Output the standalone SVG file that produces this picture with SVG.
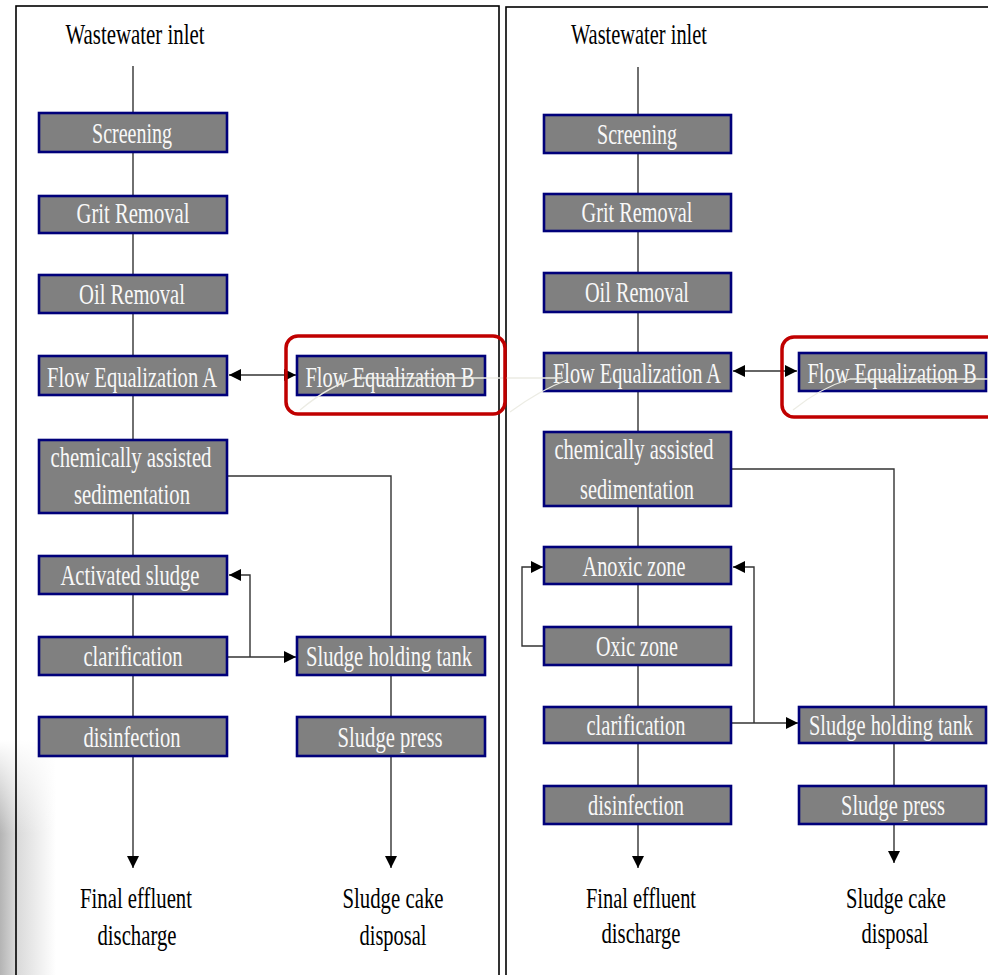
<svg xmlns="http://www.w3.org/2000/svg" width="988" height="975" viewBox="0 0 988 975">
<style>
.box{fill:#808080;stroke:#00007a;stroke-width:2.6}
.nt{font-family:"Liberation Serif","Times New Roman",serif;font-size:30px;fill:#f8f8f8;text-anchor:middle}
.lt{font-family:"Liberation Serif","Times New Roman",serif;font-size:30px;fill:#000;text-anchor:middle}
.con{fill:none;stroke:#333;stroke-width:1.4}
.panel{fill:none;stroke:#000;stroke-width:1.6}
.hl{fill:none;stroke:#c00000;stroke-width:3.5}
.faint{fill:none;stroke:#ecece4;stroke-width:1.3}
</style>
<defs>
<marker id="arr" viewBox="0 0 10 10" refX="10" refY="5" markerUnits="userSpaceOnUse" markerWidth="12" markerHeight="12" orient="auto-start-reverse">
<path d="M0,0 L10,5 L0,10 z" fill="#000"/>
</marker>
<linearGradient id="shH" x1="0" y1="0" x2="1" y2="0">
<stop offset="0" stop-color="#b4b4b4"/>
<stop offset="0.28" stop-color="#d8d8d8"/>
<stop offset="1" stop-color="#ffffff"/>
</linearGradient>
<linearGradient id="shV" x1="0" y1="0" x2="0" y2="1">
<stop offset="0" stop-color="#fff" stop-opacity="1"/>
<stop offset="0.4" stop-color="#fff" stop-opacity="0"/>
</linearGradient>
</defs>
<rect width="988" height="975" fill="#fff"/>
<g id="shadow">
<rect x="0" y="740" width="56" height="235" fill="url(#shH)"/>
<rect x="0" y="740" width="56" height="235" fill="url(#shV)"/>
</g>
<g id="panels">
<rect class="panel" x="16" y="6" width="483" height="1000"/>
<rect class="panel" x="506" y="7" width="500" height="1000"/>
</g>
<g id="connectors">
<path class="con" d="M133,66 V868" marker-end="url(#arr)"/>
<path class="con" d="M229,375 H296" marker-start="url(#arr)" marker-end="url(#arr)"/>
<path class="con" d="M227,476 H391 V637"/>
<path class="con" d="M391,675 V868" marker-end="url(#arr)"/>
<path class="con" d="M227,657 H296" marker-end="url(#arr)"/>
<path class="con" d="M250,657 V575 H229" marker-end="url(#arr)"/>
<path class="con" d="M638,67 V868" marker-end="url(#arr)"/>
<path class="con" d="M733,371 H797" marker-start="url(#arr)" marker-end="url(#arr)"/>
<path class="con" d="M731,469 H894 V707"/>
<path class="con" d="M894,743 V863" marker-end="url(#arr)"/>
<path class="con" d="M731,723 H798" marker-end="url(#arr)"/>
<path class="con" d="M754,723 V567 H733" marker-end="url(#arr)"/>
<path class="con" d="M544,646 H522 V567 H543" marker-end="url(#arr)"/>
</g>
<g id="labels">
<text class="lt" x="135" y="44" textLength="139" lengthAdjust="spacingAndGlyphs">Wastewater inlet</text>
<text class="lt" x="136" y="908" textLength="112" lengthAdjust="spacingAndGlyphs">Final effluent</text>
<text class="lt" x="137" y="945" textLength="79" lengthAdjust="spacingAndGlyphs">discharge</text>
<text class="lt" x="393" y="908" textLength="101" lengthAdjust="spacingAndGlyphs">Sludge cake</text>
<text class="lt" x="393" y="945" textLength="67" lengthAdjust="spacingAndGlyphs">disposal</text>
<text class="lt" x="639" y="44" textLength="136" lengthAdjust="spacingAndGlyphs">Wastewater inlet</text>
<text class="lt" x="641" y="908" textLength="110" lengthAdjust="spacingAndGlyphs">Final effluent</text>
<text class="lt" x="641" y="943" textLength="79" lengthAdjust="spacingAndGlyphs">discharge</text>
<text class="lt" x="896" y="908" textLength="100" lengthAdjust="spacingAndGlyphs">Sludge cake</text>
<text class="lt" x="895" y="943" textLength="67" lengthAdjust="spacingAndGlyphs">disposal</text>
</g>
<g id="L-screening"><rect class="box" x="39" y="113" width="188" height="39"/><text class="nt" x="132" y="143" textLength="80" lengthAdjust="spacingAndGlyphs">Screening</text></g>
<g id="L-grit"><rect class="box" x="39" y="196" width="188" height="37"/><text class="nt" x="133" y="223" textLength="113" lengthAdjust="spacingAndGlyphs">Grit Removal</text></g>
<g id="L-oil"><rect class="box" x="39" y="275" width="188" height="38"/><text class="nt" x="132" y="304" textLength="106" lengthAdjust="spacingAndGlyphs">Oil Removal</text></g>
<g id="L-floweqA"><rect class="box" x="39" y="356" width="188" height="39"/><text class="nt" x="132" y="387" textLength="170" lengthAdjust="spacingAndGlyphs">Flow Equalization A</text></g>
<g id="L-floweqB"><rect class="box" x="297" y="356" width="188" height="39"/><text class="nt" x="390" y="387" textLength="169" lengthAdjust="spacingAndGlyphs">Flow Equalization B</text></g>
<g id="L-chem"><rect class="box" x="39" y="440" width="188" height="73"/><text class="nt" x="131" y="467" textLength="161" lengthAdjust="spacingAndGlyphs">chemically assisted</text><text class="nt" x="132" y="504" textLength="116" lengthAdjust="spacingAndGlyphs">sedimentation</text></g>
<g id="L-activated"><rect class="box" x="39" y="556" width="188" height="38"/><text class="nt" x="130" y="585" textLength="139" lengthAdjust="spacingAndGlyphs">Activated sludge</text></g>
<g id="L-clar"><rect class="box" x="39" y="637" width="188" height="38"/><text class="nt" x="133" y="666" textLength="99" lengthAdjust="spacingAndGlyphs">clarification</text></g>
<g id="L-shtank"><rect class="box" x="297" y="637" width="188" height="38"/><text class="nt" x="389" y="666" textLength="166" lengthAdjust="spacingAndGlyphs">Sludge holding tank</text></g>
<g id="L-disinf"><rect class="box" x="39" y="717" width="188" height="39"/><text class="nt" x="132" y="747" textLength="97" lengthAdjust="spacingAndGlyphs">disinfection</text></g>
<g id="L-press"><rect class="box" x="297" y="717" width="188" height="39"/><text class="nt" x="390" y="747" textLength="105" lengthAdjust="spacingAndGlyphs">Sludge press</text></g>
<g id="R-screening"><rect class="box" x="544" y="115" width="187" height="38"/><text class="nt" x="637" y="144" textLength="80" lengthAdjust="spacingAndGlyphs">Screening</text></g>
<g id="R-grit"><rect class="box" x="544" y="194" width="187" height="37"/><text class="nt" x="637" y="222" textLength="111" lengthAdjust="spacingAndGlyphs">Grit Removal</text></g>
<g id="R-oil"><rect class="box" x="544" y="273" width="187" height="39"/><text class="nt" x="637" y="302" textLength="104" lengthAdjust="spacingAndGlyphs">Oil Removal</text></g>
<g id="R-floweqA"><rect class="box" x="544" y="353" width="187" height="38"/><text class="nt" x="637" y="383" textLength="168" lengthAdjust="spacingAndGlyphs">Flow Equalization A</text></g>
<g id="R-floweqB"><rect class="box" x="799" y="353" width="187" height="38"/><text class="nt" x="892" y="383" textLength="169" lengthAdjust="spacingAndGlyphs">Flow Equalization B</text></g>
<g id="R-chem"><rect class="box" x="544" y="432" width="187" height="74"/><text class="nt" x="634" y="459" textLength="159" lengthAdjust="spacingAndGlyphs">chemically assisted</text><text class="nt" x="637" y="499" textLength="114" lengthAdjust="spacingAndGlyphs">sedimentation</text></g>
<g id="R-anoxic"><rect class="box" x="544" y="547" width="187" height="37"/><text class="nt" x="634" y="576" textLength="103" lengthAdjust="spacingAndGlyphs">Anoxic zone</text></g>
<g id="R-oxic"><rect class="box" x="544" y="627" width="187" height="38"/><text class="nt" x="637" y="656" textLength="82" lengthAdjust="spacingAndGlyphs">Oxic zone</text></g>
<g id="R-clar"><rect class="box" x="544" y="707" width="187" height="36"/><text class="nt" x="636" y="735" textLength="99" lengthAdjust="spacingAndGlyphs">clarification</text></g>
<g id="R-shtank"><rect class="box" x="799" y="707" width="187" height="36"/><text class="nt" x="891" y="735" textLength="164" lengthAdjust="spacingAndGlyphs">Sludge holding tank</text></g>
<g id="R-disinf"><rect class="box" x="544" y="786" width="187" height="38"/><text class="nt" x="636" y="815" textLength="96" lengthAdjust="spacingAndGlyphs">disinfection</text></g>
<g id="R-press"><rect class="box" x="799" y="786" width="187" height="38"/><text class="nt" x="893" y="815" textLength="104" lengthAdjust="spacingAndGlyphs">Sludge press</text></g>
<g id="faint-lines">
<path class="faint" d="M300,410 Q330,385 357,378 H563"/>
<path class="faint" d="M510,412 Q540,390 567,380"/>
<path class="faint" d="M793,410 Q820,388 850,379 H988"/>
</g>
<g id="highlights">
<rect class="hl" x="286" y="336" width="219" height="78" rx="12"/>
<rect class="hl" x="782" y="337" width="240" height="80" rx="12"/>
</g>
</svg>
